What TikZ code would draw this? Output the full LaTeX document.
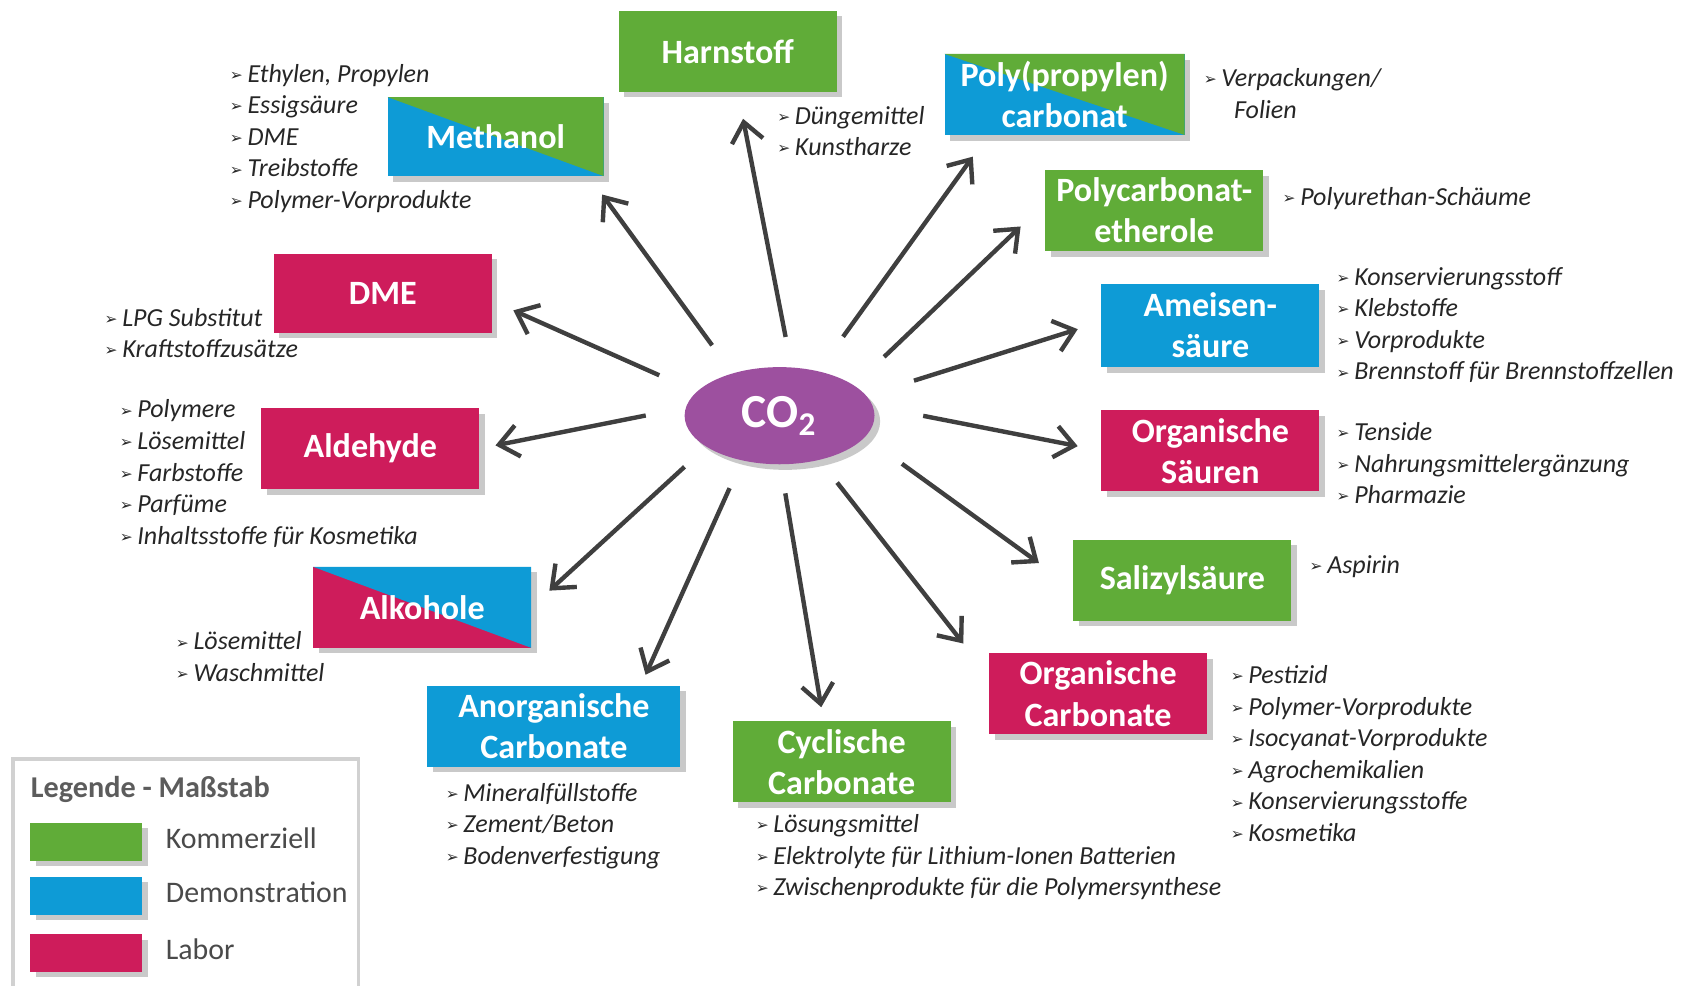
\documentclass[tikz,border=0pt]{standalone}
\usepackage{fontspec}
\setmainfont{Carlito}
\newfontfamily\djv{DejaVu Sans}
\usetikzlibrary{arrows.meta,shapes.geometric,shadows}
\definecolor{cgreen}{HTML}{60AC38}
\definecolor{cblue}{HTML}{0E9BD6}
\definecolor{cmag}{HTML}{CE1C5B}
\definecolor{cpurp}{HTML}{9D509F}
\definecolor{carrow}{HTML}{3F3F3F}
\definecolor{ctext}{HTML}{262626}
\definecolor{cleg}{HTML}{4A4A4A}
\newcommand\bl{\makebox[5pt][l]{\raisebox{0.5pt}{\djv\fontsize{4.4}{5}\selectfont ➢}}}
\newcommand\annotlist[4]{%
  \foreach \itm [count=\i] in {#4}{\node[anot] (#1-\i) at (#2,{#3+(\i-1)*29.25}) {\bl\itm};}}
\tikzset{
  shad/.style={drop shadow={shadow xshift=1.6pt, shadow yshift=-1.6pt, opacity=0.35, fill=black!60}},
  box/.style={rectangle, minimum width=2.18cm, minimum height=0.81cm, inner sep=1pt, outer sep=0pt,
    text=white, font=\fontsize{9.7}{11.7}\selectfont\bfseries, align=center, shad},
  boxtext/.style={inner sep=0pt, outer sep=0pt, text=white, align=center,
    font=\fontsize{9.7}{11.7}\selectfont\bfseries},
  anot/.style={anchor=base west, inner sep=0pt, outer sep=0pt, text=ctext,
    font=\fontsize{7.4}{8.9}\selectfont\itshape},
  arr/.style={draw=carrow, line width=1.25pt, -{Straight Barb[length=5.5pt,width=9pt]}},
  swatch/.style={rectangle, minimum width=1.123cm, minimum height=0.378cm, inner sep=0pt, outer sep=0pt, shad},
  legtxt/.style={anchor=base west, inner sep=0pt, text=cleg, font=\fontsize{8.5}{10}\selectfont},
}
\begin{document}
\begin{tikzpicture}[x=0.010797cm, y=-0.010797cm]
\useasboundingbox (0,0) rectangle (1568,913);
\fill[white] (0,0) rectangle (1568,913);

% centre
\node[ellipse, fill=cpurp, minimum width=1.90cm, minimum height=0.972cm, inner sep=0pt, outer sep=0pt,
  shad, text=white, font=\fontsize{13.5}{15}\selectfont\bfseries] (co2) at (722,385) {CO\textsubscript{2}};

% boxes
\node[box, fill=cgreen] (harn) at (674,47.5) {Harnstoff};

\node[box, fill=cblue, minimum width=2.16cm, minimum height=0.79cm] (methbox) at (459,126.5) {};
\fill[cgreen] (methbox.north west) -- (methbox.north east) -- (methbox.south east) -- cycle;
\node[boxtext] (meth) at (methbox) {Methanol};

\node[box, fill=cblue, minimum width=2.40cm] (polybox) at (986,87.5) {};
\fill[cgreen] (polybox.north west) -- (polybox.north east) -- (polybox.south east) -- cycle;
\node[boxtext] (poly) at (polybox) {Poly(propylen)\\carbonat};

\node[box, fill=cgreen] (pce) at (1069,195) {Polycarbonat-\\etherole};
\node[box, fill=cblue, minimum height=0.83cm] (amei) at (1121,301.5) {Ameisen-\\säure};
\node[box, fill=cmag] (osae) at (1121,417.5) {Organische\\Säuren};
\node[box, fill=cgreen] (sali) at (1095,537.5) {Salizylsäure};
\node[box, fill=cmag] (ocarb) at (1017,642.5) {Organische\\Carbonate};
\node[box, fill=cgreen] (cycl) at (779.5,705.5) {Cyclische\\Carbonate};
\node[box, fill=cblue, minimum width=2.53cm] (anorg) at (513,672.5) {Anorganische\\Carbonate};

\node[box, fill=cmag] (alkbox) at (391,562.5) {};
\fill[cblue] (alkbox.north west) -- (alkbox.north east) -- (alkbox.south east) -- cycle;
\node[boxtext] (alk) at (alkbox) {Alkohole};

\node[box, fill=cmag] (alde) at (343,415.5) {Aldehyde};
\node[box, fill=cmag, minimum height=0.79cm] (dme) at (354.5,271.5) {DME};

% arrows
\draw[arr, shorten <=0.3115cm, shorten >=0.2753cm] (co2.76.8) -- (harn.-76.2);
\draw[arr, shorten <=0.3487cm, shorten >=0.2289cm] (co2.138.2) -- (methbox.-23.6);
\draw[arr, shorten <=0.4103cm, shorten >=0.2365cm] (co2.164.4) -- (dme.-4.3);
\draw[arr, shorten <=0.4103cm, shorten >=0.1652cm] (co2.175.1) -- (alde.-0.3);
\draw[arr, shorten <=0.2980cm, shorten >=0.2473cm] (co2.203.9) -- (alkbox.-0.5);
\draw[arr, shorten <=0.3056cm, shorten >=0.1188cm] (co2.-130.4) -- (anorg.25.85);
\draw[arr, shorten <=0.2953cm, shorten >=0.1425cm] (co2.-89.4) -- (cycl.114.8);
\draw[arr, shorten <=0.2894cm, shorten >=0.4189cm] (co2.-48.3) -- (ocarb.171.5);
\draw[arr, shorten <=0.4578cm, shorten >=0.4254cm] (co2.-14.45) -- (sali.184.3);
\draw[arr, shorten <=0.5161cm, shorten >=0.2419cm] (co2.6.1) -- (osae.180);
\draw[arr, shorten <=0.5021cm, shorten >=0.2483cm] (co2.13.6) -- (amei.178.1);
\draw[arr, shorten <=0.4157cm, shorten >=0.3412cm] (co2.22.8) -- (pce.176.2);
\draw[arr, shorten <=0.4265cm, shorten >=0.2678cm] (co2.49.0) -- (polybox.208.7);

% annotations
\annotlist{ameth}{213}{76}{{Ethylen, Propylen},Essigsäure,DME,Treibstoffe,Polymer-Vorprodukte}
\annotlist{aharn}{720}{115}{Düngemittel,Kunstharze}
\node[anot] (apoly-1) at (1115,80) {\bl Verpackungen/};
\node[anot] (apoly-2) at (1143,110) {Folien};
\annotlist{apce}{1188}{190}{Polyurethan-Schäume}
\annotlist{aamei}{1238}{264}{Konservierungsstoff,Klebstoffe,Vorprodukte,Brennstoff für Brennstoffzellen}
\annotlist{aosae}{1238}{408}{Tenside,Nahrungsmittelergänzung,Pharmazie}
\annotlist{asali}{1213}{531}{Aspirin}
\annotlist{aocarb}{1140}{633}{Pestizid,Polymer-Vorprodukte,Isocyanat-Vorprodukte,Agrochemikalien,Konservierungsstoffe,Kosmetika}
\annotlist{acycl}{700}{771}{Lösungsmittel,Elektrolyte für Lithium-Ionen Batterien,Zwischenprodukte für die Polymersynthese}
\annotlist{aanorg}{413}{742}{Mineralfüllstoffe,Zement/Beton,Bodenverfestigung}
\annotlist{aalk}{163}{602}{Lösemittel,Waschmittel}
\annotlist{aalde}{111}{387}{Polymere,Lösemittel,Farbstoffe,Parfüme,Inhaltsstoffe für Kosmetika}
\annotlist{adme}{97}{302}{LPG Substitut,Kraftstoffzusätze}

% legend
\draw[draw=black!18, line width=0.9pt] (12,703) rectangle (332,918);
\node[anchor=base west, inner sep=0pt, text=cleg!90, font=\fontsize{8.6}{10}\selectfont\bfseries] (legt) at (28,739) {Legende - Maßstab};
\node[swatch, fill=cgreen] (lg1) at (80,779.5) {};
\node[swatch, fill=cblue] (lg2) at (80,829.5) {};
\node[swatch, fill=cmag] (lg3) at (80,882.5) {};
\node[legtxt] (lt1) at (153,786) {Kommerziell};
\node[legtxt] (lt2) at (153,836) {Demonstration};
\node[legtxt] (lt3) at (153,889) {Labor};
\end{tikzpicture}
\end{document}
